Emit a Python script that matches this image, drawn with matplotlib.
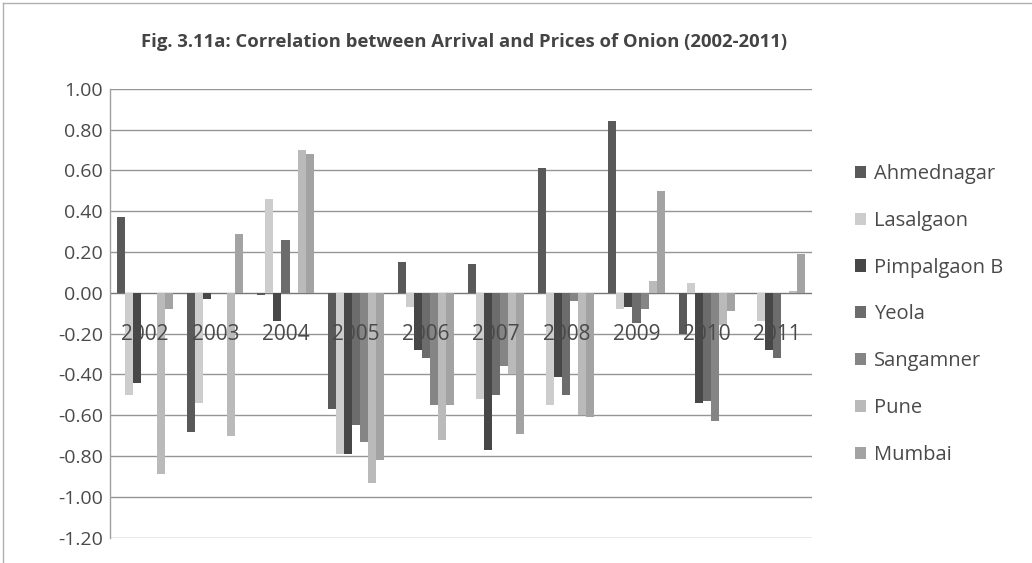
import numpy as np
import matplotlib
matplotlib.use("Agg")
import matplotlib.pyplot as plt
from matplotlib.patches import Patch
from matplotlib.lines import Line2D

plt.rcParams["font.family"] = ["Open Sans", "DejaVu Sans"]
plt.rcParams["axes.unicode_minus"] = False

# Correlation coefficients between arrivals and prices, by market and year
years = [2002, 2003, 2004, 2005, 2006, 2007, 2008, 2009, 2010, 2011]
ahmednagar = [0.37, -0.68, -0.01, -0.57, 0.15, 0.14, 0.61, 0.84, -0.20, 0.00]
lasalgaon = [-0.50, -0.54, 0.46, -0.79, -0.07, -0.52, -0.55, -0.08, 0.05, -0.14]
pimpalgaon_b = [-0.44, -0.03, -0.14, -0.79, -0.28, -0.77, -0.41, -0.07, -0.54, -0.28]
yeola = [0.00, 0.00, 0.26, -0.65, -0.32, -0.50, -0.50, -0.15, -0.53, -0.32]
sangamner = [0.00, 0.00, 0.00, -0.73, -0.55, -0.36, -0.04, -0.08, -0.63, 0.00]
pune = [-0.89, -0.70, 0.70, -0.93, -0.72, -0.40, -0.60, 0.06, -0.16, 0.01]
mumbai = [-0.08, 0.29, 0.68, -0.82, -0.55, -0.69, -0.61, 0.50, -0.09, 0.19]

series_names = ["Ahmednagar", "Lasalgaon", "Pimpalgaon B", "Yeola",
                "Sangamner", "Pune", "Mumbai"]
series_values = [ahmednagar, lasalgaon, pimpalgaon_b, yeola,
                 sangamner, pune, mumbai]
series_colors = ["#595959", "#cdcdcd", "#474747", "#6c6c6c",
                 "#858585", "#bababa", "#a3a3a3"]

yticks = [1.00, 0.80, 0.60, 0.40, 0.20, 0.00, -0.20, -0.40,
          -0.60, -0.80, -1.00, -1.20]

W, H = 1032, 563
fig = plt.figure(figsize=(W / 100, H / 100), dpi=100)
fig.patch.set_facecolor("white")

ax = fig.add_axes([110 / W, 1 - 537.7 / H, (812 - 110) / W, (537.7 - 88.8) / H])

x = np.arange(len(years))
n = len(series_names)
bar_w = 0.8 / n
for i, (name, vals, col) in enumerate(zip(series_names, series_values, series_colors)):
    offs = (i - (n - 1) / 2) * bar_w
    ax.bar(x + offs, vals, width=bar_w, color=col, edgecolor="none",
           label=name, zorder=3)

ax.set_xlim(-0.5, len(years) - 0.5)
ax.set_ylim(-1.2, 1.0)
ax.set_yticks(yticks)
ax.set_yticklabels([f"{v:.2f}" for v in yticks], fontsize=14, color="#4a4a4a")
ax.tick_params(axis="y", length=0, pad=5)
ax.set_xticks([])

for v in yticks:
    ax.axhline(v, color="#959595" if v != 0 else "#777777", lw=1.0, zorder=1)

for s in ["top", "right", "bottom"]:
    ax.spines[s].set_visible(False)
ax.spines["left"].set_color("#a0a0a0")
ax.spines["left"].set_linewidth(1.0)

# year labels sit just below the zero axis
for xi, yr in zip(x, years):
    ax.text(xi, -0.203, str(yr), ha="center", va="center", fontsize=15,
            color="#4a4a4a", zorder=5)

fig.text(464 / W, 1 - 42 / H,
         "Fig. 3.11a: Correlation between Arrival and Prices of Onion (2002-2011)",
         ha="center", va="center", fontsize=13.3, fontweight="bold",
         color="#444444")

handles = [Patch(facecolor=c, edgecolor="none") for c in series_colors]
fig.legend(handles, series_names, loc="upper left",
           bbox_to_anchor=(855 / W, 1 - 164 / H), frameon=False,
           fontsize=14.5, labelcolor="#4a4a4a", handlelength=0.55,
           handleheight=0.55, handletextpad=0.4, labelspacing=1.33,
           borderpad=0, borderaxespad=0)

# chart-area border
fig.add_artist(Line2D([3 / W, 3 / W], [0, 1 - 3 / H], transform=fig.transFigure,
                      color="#b0b0b0", lw=1.0))
fig.add_artist(Line2D([3 / W, 1], [1 - 3 / H, 1 - 3 / H], transform=fig.transFigure,
                      color="#b0b0b0", lw=1.0))

fig.savefig("out.png", dpi=100, facecolor="white")
